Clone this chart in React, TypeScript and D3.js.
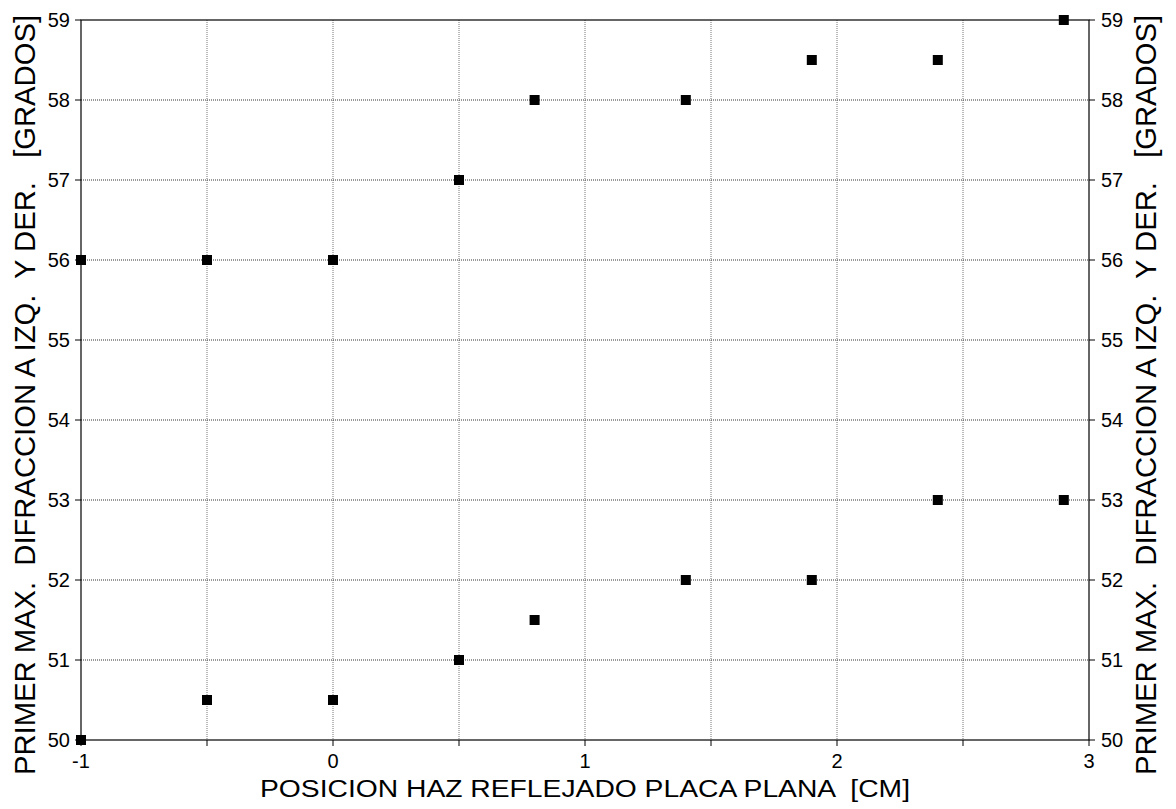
import React from "react";
import * as d3 from "d3";

const xUpper = [-1, -0.5, 0, 0.5, 0.8, 1.4, 1.9, 2.4, 2.9];
const yUpper = [56, 56, 56, 57, 58, 58, 58.5, 58.5, 59];
const xLower = [-1, -0.5, 0, 0.5, 0.8, 1.4, 1.9, 2.4, 2.9];
const yLower = [50, 50.5, 50.5, 51, 51.5, 52, 52, 53, 53];
const xTickLabels = [-1, 0, 1, 2, 3];
const xGridTicks = [-1, -0.5, 0, 0.5, 1, 1.5, 2, 2.5, 3];
const yTicks = [50, 51, 52, 53, 54, 55, 56, 57, 58, 59];
const xTitle = "POSICION HAZ REFLEJADO PLACA PLANA  [CM]";
const yTitle = "PRIMER MAX.  DIFRACCION A IZQ.  Y DER.   [GRADOS]";

export default function App() {
  const W = 1176, H = 809;
  const L = 81, R = 1089, T = 20, B = 740;
  const x = d3.scaleLinear().domain([-1, 3]).range([L, R]);
  const y = d3.scaleLinear().domain([50, 59]).range([B, T]);
  const font = "Liberation Sans, Arial, sans-serif";
  const pts = [
    ...xUpper.map((v, i) => [v, yUpper[i]]),
    ...xLower.map((v, i) => [v, yLower[i]]),
  ];
  const s = 10;
  const pre = { whiteSpace: "pre" } as React.CSSProperties;
  return (
    <svg width={W} height={H} style={{ position: "absolute", left: 0, top: 0, background: "#fff" }} fontFamily={font}>
      <rect x={0} y={0} width={W} height={H} fill="#fff" />
      {xGridTicks.slice(1, -1).map((t) => (
        <line key={"gx" + t} x1={x(t)} x2={x(t)} y1={T} y2={B} stroke="#777" strokeWidth={1} strokeDasharray="1,1" />
      ))}
      {yTicks.slice(1, -1).map((t) => (
        <line key={"gy" + t} x1={L} x2={R} y1={y(t)} y2={y(t)} stroke="#333" strokeWidth={1} strokeDasharray="1,1" />
      ))}
      <rect x={L} y={T} width={R - L} height={B - T} fill="none" stroke="#000" strokeWidth={1.2} />
      {xGridTicks.map((t) => (
        <line key={"tx" + t} x1={x(t)} x2={x(t)} y1={B} y2={B + 6} stroke="#000" strokeWidth={1} />
      ))}
      {yTicks.map((t) => (
        <g key={"ty" + t}>
          <line x1={L - 6} x2={L} y1={y(t)} y2={y(t)} stroke="#000" strokeWidth={1} />
          <line x1={R} x2={R + 6} y1={y(t)} y2={y(t)} stroke="#000" strokeWidth={1} />
          <text x={L - 11} y={y(t) + 7} fontSize={20} textAnchor="end" fill="#000">{t}</text>
          <text x={R + 12} y={y(t) + 7} fontSize={20} textAnchor="start" fill="#000">{t}</text>
        </g>
      ))}
      {xTickLabels.map((t) => (
        <text key={"lx" + t} x={x(t)} y={768} fontSize={20} textAnchor="middle" fill="#000">{t}</text>
      ))}
      <text x={(L + R) / 2} y={797} fontSize={23} textAnchor="middle" textLength={650} lengthAdjust="spacingAndGlyphs" fill="#000" style={pre}>{xTitle}</text>
      <text transform={`translate(35, ${(T + B) / 2 + 15}) rotate(-90)`} fontSize={29} textAnchor="middle" textLength={760} lengthAdjust="spacingAndGlyphs" fill="#000" style={pre}>{yTitle}</text>
      <text transform={`translate(1156, ${(T + B) / 2 + 15}) rotate(-90)`} fontSize={29} textAnchor="middle" textLength={760} lengthAdjust="spacingAndGlyphs" fill="#000" style={pre}>{yTitle}</text>
      {pts.map(([a, b], i) => (
        <rect key={"p" + i} x={x(a) - s / 2} y={y(b) - s / 2} width={s} height={s} fill="#000" />
      ))}
    </svg>
  );
}
